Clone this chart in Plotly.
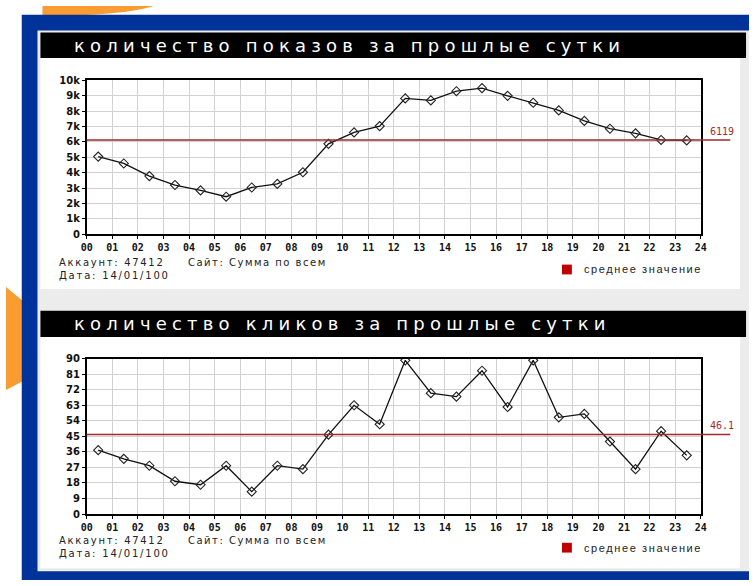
import plotly.graph_objects as go

# ---------------- data ----------------
hours = list(range(24))
hour_labels = ["00", "01", "02", "03", "04", "05", "06", "07", "08", "09", "10", "11",
               "12", "13", "14", "15", "16", "17", "18", "19", "20", "21", "22", "23", "24"]
impressions = [5050, 4600, 3780, 3200, 2850, 2440, 3040, 3270, 4030, 5880, 6620, 7030,
               8830, 8700, 9300, 9500, 9000, 8550, 8050, 7370, 6860, 6560, 6130, 6100]
clicks = [37, 32, 28, 19, 17, 28, 13, 28, 26, 46, 63, 52,
          89, 70, 68, 83, 62, 89, 56, 58, 42, 26, 48, 34]
imp_tickvals = [0, 1000, 2000, 3000, 4000, 5000, 6000, 7000, 8000, 9000, 10000]
imp_ticktext = ["0", "1k", "2k", "3k", "4k", "5k", "6k", "7k", "8k", "9k", "10k"]
click_tickvals = [0, 9, 18, 27, 36, 45, 54, 63, 72, 81, 90]
click_ticktext = ["0", "9", "18", "27", "36", "45", "54", "63", "72", "81", "90"]
imp_mean = 6119
click_mean = 46.1
imp_mean_label = "6119"
click_mean_label = "46.1"
titles = ["количество показов за прошлые сутки", "количество кликов за прошлые сутки"]
account_text = "Аккаунт: 47412"
site_text = "Сайт: Сумма по всем"
date_text = "Дата: 14/01/100"
legend_text = "среднее значение"

# ---------------- layout helpers ----------------
W, H = 755, 586


def px(x):
    return x / W


def py(y):
    return 1 - y / H


BLUE = "#003399"
ORANGE = "#f99d33"
PANEL_GRAY = "#ececec"
MEAN_RED = "#9e2a2f"
LEGEND_RED = "#c00000"

x_pos = [h + 0.45 for h in hours]

fig = go.Figure()

fig.add_trace(go.Scatter(
    x=x_pos, y=impressions, mode="lines+markers", xaxis="x", yaxis="y",
    line=dict(color="#111111", width=1.3),
    marker=dict(symbol="diamond-open", size=7, color="#222222", line=dict(width=1.1)),
    showlegend=False, hoverinfo="x+y"))
fig.add_trace(go.Scatter(
    x=x_pos, y=clicks, mode="lines+markers", xaxis="x2", yaxis="y2",
    line=dict(color="#111111", width=1.3),
    marker=dict(symbol="diamond-open", size=7, color="#222222", line=dict(width=1.1)),
    showlegend=False, hoverinfo="x+y"))

tickfont_x = dict(family="DejaVu Sans Mono", size=10, color="#111111", weight="bold")
tickfont_y = dict(family="DejaVu Sans", size=10, color="#111111", weight="bold")

common_x = dict(range=[0, 24], tickmode="array", tickvals=list(range(25)), ticktext=hour_labels,
                showgrid=True, gridcolor="#d2d2d2", gridwidth=1, zeroline=False,
                showline=True, linecolor="#000000", linewidth=1.5, mirror=True,
                ticks="outside", ticklen=3, tickcolor="#000000", tickfont=tickfont_x,
                fixedrange=True)
common_y = dict(showgrid=True, gridcolor="#d2d2d2", gridwidth=1, zeroline=False,
                showline=True, linecolor="#000000", linewidth=1.5, mirror=True,
                ticks="outside", ticklen=3, tickcolor="#000000", tickfont=tickfont_y,
                tickmode="array", fixedrange=True)

shapes = [
    # top orange blob
    dict(type="path", xref="paper", yref="paper", layer="below",
         path=f"M {px(37)} {py(0)} L {px(150)} {py(0)} Q {px(120)} {py(10)} {px(37)} {py(10)} Z",
         fillcolor=ORANGE, line=dict(width=0)),
    # left orange point
    dict(type="path", xref="paper", yref="paper", layer="below",
         path=f"M {px(0)} {py(287)} L {px(17)} {py(301)} L {px(17)} {py(383)} L {px(0)} {py(392)} Z",
         fillcolor=ORANGE, line=dict(width=0)),
    # blue frame
    dict(type="rect", xref="paper", yref="paper", layer="below",
         x0=px(16), x1=px(755), y0=py(9), y1=py(586), fillcolor=BLUE, line=dict(width=0)),
    # inner gray panel
    dict(type="rect", xref="paper", yref="paper", layer="below",
         x0=px(32), x1=px(755), y0=py(25), y1=py(577), fillcolor=PANEL_GRAY, line=dict(width=0)),
    # panel 1 white
    dict(type="rect", xref="paper", yref="paper", layer="below",
         x0=px(35), x1=px(746), y0=py(53), y1=py(289), fillcolor="#ffffff", line=dict(width=0)),
    # panel 2 white
    dict(type="rect", xref="paper", yref="paper", layer="below",
         x0=px(35), x1=px(746), y0=py(338), y1=py(574), fillcolor="#ffffff", line=dict(width=0)),
    # title bars
    dict(type="rect", xref="paper", yref="paper", layer="below",
         x0=px(35), x1=px(752), y0=py(27), y1=py(53), fillcolor="#000000", line=dict(width=0)),
    dict(type="rect", xref="paper", yref="paper", layer="below",
         x0=px(35), x1=px(752), y0=py(311), y1=py(338), fillcolor="#000000", line=dict(width=0)),
    # mean lines
    dict(type="line", xref="paper", yref="y", layer="above",
         x0=px(82), x1=px(736), y0=imp_mean, y1=imp_mean, line=dict(color=MEAN_RED, width=1.5)),
    dict(type="line", xref="paper", yref="y2", layer="above",
         x0=px(82), x1=px(736), y0=click_mean, y1=click_mean, line=dict(color=MEAN_RED, width=1.5)),
    # legend swatches
    dict(type="rect", xref="paper", yref="paper", layer="above",
         x0=px(565), x1=px(575), y0=py(264), y1=py(274), fillcolor=LEGEND_RED, line=dict(width=0)),
    dict(type="rect", xref="paper", yref="paper", layer="above",
         x0=px(565), x1=px(575), y0=py(548), y1=py(558), fillcolor=LEGEND_RED, line=dict(width=0)),
]


def spaced(text, sp):
    return f'<span style="letter-spacing:{sp}px">{text}</span>'


title_font = dict(family="DejaVu Sans", size=18, color="#ffffff")
info_font = dict(family="DejaVu Sans", size=10, color="#222222")
legend_font = dict(family="Liberation Sans", size=11, color="#222222")
mean_font = dict(family="DejaVu Sans Mono", size=10, color=MEAN_RED)

annotations = []
for title, ty in zip(titles, [40, 324]):
    annotations.append(dict(text=spaced(title, 5.2), x=px(67), y=py(ty), xref="paper", yref="paper",
                            xanchor="left", yanchor="middle", showarrow=False, font=title_font))
for base in [0, 284]:
    annotations.append(dict(text=spaced(account_text, 1.7), x=px(52), y=py(262 + base), xref="paper",
                            yref="paper", xanchor="left", yanchor="middle", showarrow=False, font=info_font))
    annotations.append(dict(text=spaced(site_text, 1.5), x=px(183), y=py(262 + base), xref="paper",
                            yref="paper", xanchor="left", yanchor="middle", showarrow=False, font=info_font))
    annotations.append(dict(text=spaced(date_text, 1.8), x=px(52), y=py(275 + base), xref="paper",
                            yref="paper", xanchor="left", yanchor="middle", showarrow=False, font=info_font))
    annotations.append(dict(text=spaced(legend_text, 1.6), x=px(585), y=py(269 + base), xref="paper",
                            yref="paper", xanchor="left", yanchor="middle", showarrow=False, font=legend_font))
annotations.append(dict(text=imp_mean_label, x=px(713), y=imp_mean, xref="paper", yref="y",
                        xanchor="left", yanchor="bottom", yshift=1, showarrow=False, font=mean_font))
annotations.append(dict(text=click_mean_label, x=px(713), y=click_mean, xref="paper", yref="y2",
                        xanchor="left", yanchor="bottom", yshift=1, showarrow=False, font=mean_font))

fig.update_layout(
    width=W, height=H, autosize=False, margin=dict(l=0, r=0, t=0, b=0),
    paper_bgcolor="#ffffff", plot_bgcolor="#ffffff",
    xaxis=dict(domain=[px(82), px(706)], anchor="y", **common_x),
    yaxis=dict(domain=[py(233), py(76)], anchor="x", range=[0, 10000],
               tickvals=imp_tickvals, ticktext=imp_ticktext, **common_y),
    xaxis2=dict(domain=[px(82), px(706)], anchor="y2", **common_x),
    yaxis2=dict(domain=[py(518.7), py(360)], anchor="x2", range=[0, 90],
                tickvals=click_tickvals, ticktext=click_ticktext, **common_y),
    shapes=shapes, annotations=annotations, showlegend=False,
)

fig.write_html(
    "out.html",
    config={"displayModeBar": False, "responsive": False},
    post_script="document.body.style.margin='0';document.body.style.overflow='hidden';",
)
